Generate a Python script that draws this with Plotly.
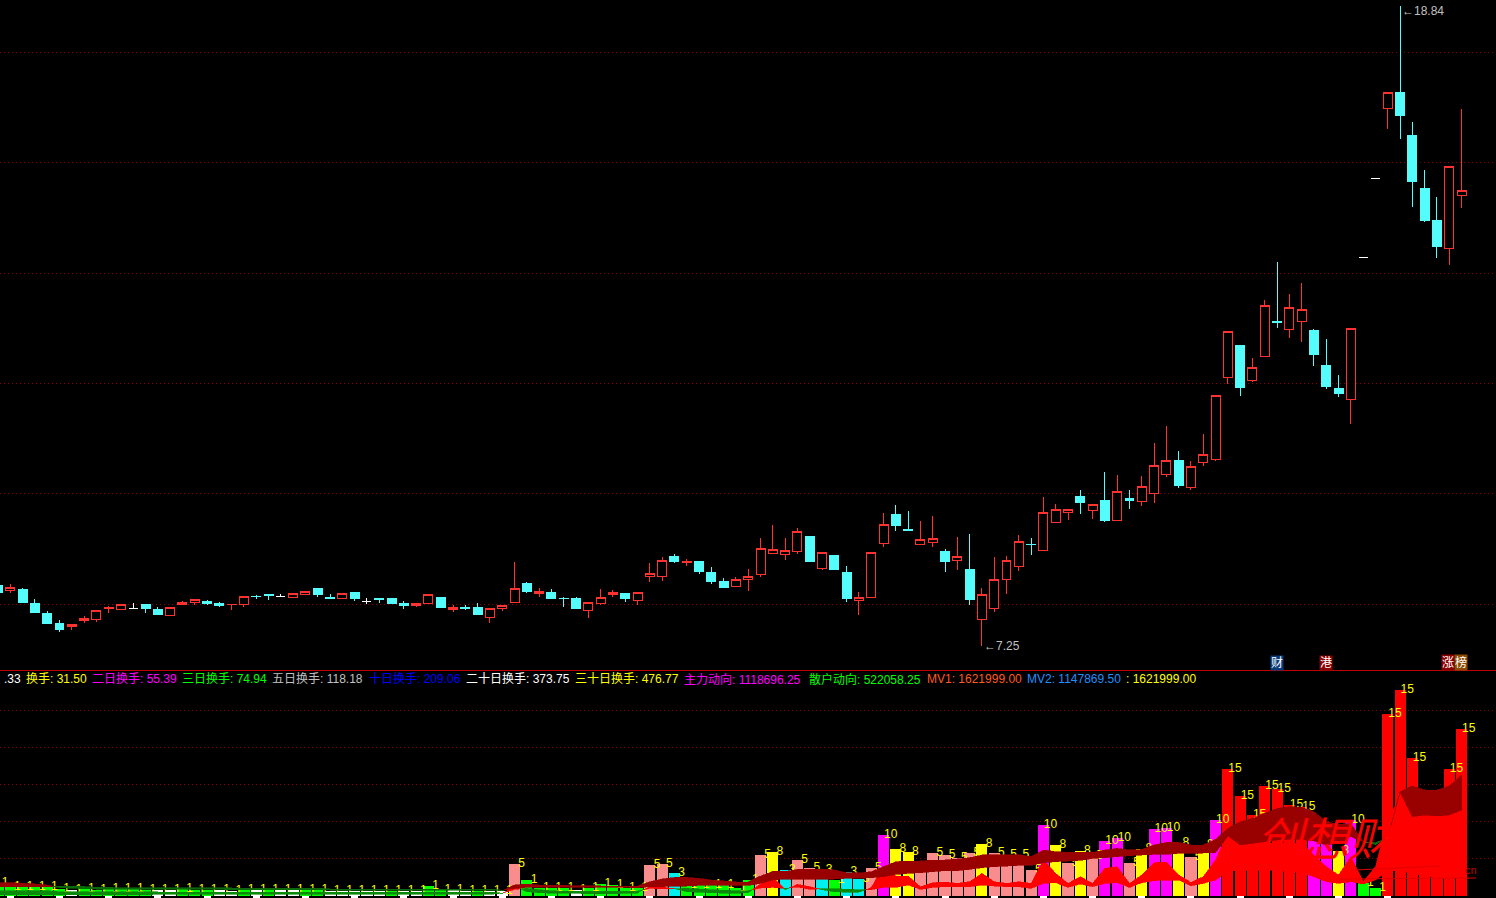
import plotly.graph_objects as go

W, H = 1496, 898

# ---------- daily prices (yuan) ----------
opens = [8.35,8.25,8.26,8.02,7.84,7.66,7.59,7.70,7.72,7.92,7.90,7.93,7.99,7.90,7.79,7.99,8.04,8.06,8.01,7.99,
         7.99,8.15,8.17,8.14,8.13,8.18,8.28,8.13,8.10,8.21,8.06,8.11,8.10,8.01,7.97,8.01,8.13,7.90,7.95,7.95,
         7.77,7.92,8.03,8.37,8.19,8.21,8.11,8.10,7.89,8.01,8.17,8.19,8.07,8.50,8.50,8.87,8.75,8.77,8.58,8.42,
         8.32,8.45,8.54,8.93,8.90,8.95,9.22,8.65,8.89,8.57,8.07,8.12,9.10,9.62,9.36,9.08,9.12,8.95,8.79,8.64,
         7.72,7.92,8.45,8.69,9.09,8.98,9.49,9.67,9.95,9.70,9.88,9.52,9.92,9.87,10.01,10.36,10.60,10.12,10.57,10.63,
         12.11,12.69,12.06,12.49,13.12,12.98,13.13,12.96,12.33,11.91,11.72,14.29,15.72,16.98,17.28,16.50,15.54,14.95,14.45,15.41]
highs = [8.37,8.37,8.30,8.10,7.88,7.72,7.64,7.79,7.90,7.97,7.99,8.02,8.01,7.95,7.95,8.06,8.10,8.08,8.04,8.00,
         8.15,8.17,8.19,8.19,8.21,8.24,8.28,8.19,8.20,8.22,8.11,8.11,8.11,8.06,8.02,8.17,8.13,7.99,7.99,8.02,
         7.92,7.98,8.76,8.40,8.30,8.28,8.13,8.13,8.04,8.28,8.26,8.21,8.22,8.75,8.86,8.91,8.82,8.78,8.68,8.48,
         8.49,8.64,9.20,9.44,9.20,9.38,9.24,8.94,8.89,8.69,8.22,8.94,9.65,9.80,9.69,9.51,9.60,9.00,9.22,9.27,
         8.30,8.86,8.87,9.25,9.21,9.95,9.81,9.73,10.08,9.80,10.39,10.35,10.08,10.33,10.93,11.24,10.77,10.59,11.09,11.78,
         12.95,12.69,12.47,13.52,14.21,13.63,13.83,12.98,12.80,12.16,12.99,14.29,15.72,17.27,18.84,16.74,15.87,15.38,15.94,16.97]
lows = [8.20,8.21,8.04,7.84,7.64,7.50,7.53,7.66,7.68,7.84,7.90,7.92,7.84,7.81,7.79,7.99,7.99,7.99,7.95,7.90,
        7.95,8.10,8.08,8.13,8.11,8.16,8.13,8.11,8.10,8.06,8.01,8.02,8.01,7.92,7.95,8.01,7.95,7.86,7.90,7.81,
        7.66,7.885,8.03,8.21,8.14,8.10,7.95,7.93,7.75,7.99,8.13,8.04,7.99,8.40,8.42,8.75,8.69,8.55,8.37,8.30,
        8.32,8.24,8.49,8.91,8.80,8.91,8.78,8.62,8.64,8.04,7.81,8.12,9.04,9.33,9.33,9.08,9.04,8.58,8.62,7.99,
        7.25,7.86,8.19,8.60,8.90,8.96,9.49,9.52,9.63,9.55,9.50,9.52,9.72,9.79,9.84,10.31,10.10,10.08,10.50,10.60,
        11.99,11.78,12.02,12.49,13.00,12.83,12.76,12.31,11.91,11.76,11.26,14.29,15.72,16.61,16.43,15.20,14.93,14.28,14.15,15.18]
closes = [8.22,8.31,8.04,7.86,7.66,7.55,7.63,7.75,7.88,7.95,7.99,7.93,7.93,7.81,7.95,8.04,8.08,8.02,7.97,8.00,
          8.15,8.14,8.16,8.14,8.19,8.24,8.17,8.11,8.20,8.10,8.06,8.08,8.01,7.97,8.01,8.17,7.95,7.95,7.93,7.81,
          7.92,7.98,8.29,8.24,8.24,8.11,8.10,7.93,8.04,8.13,8.22,8.10,8.22,8.56,8.80,8.78,8.78,8.60,8.42,8.30,
          8.45,8.51,9.01,8.99,8.98,9.32,8.78,8.94,8.64,8.11,8.13,8.94,9.45,9.42,9.33,9.18,9.19,8.77,8.87,8.08,
          8.18,8.45,8.80,9.14,9.08,9.67,9.71,9.71,9.84,9.80,9.52,10.04,9.88,10.13,10.51,10.60,10.15,10.49,10.71,11.78,
          12.95,11.93,12.30,13.41,13.11,13.37,13.35,12.52,11.94,11.82,12.99,14.29,15.72,17.27,16.86,15.67,14.96,14.49,15.94,15.50]
white_days = [11, 23, 30, 111, 112]

# ---------- lower pane ----------
volumes = [13,9,9,9,9,7,6,7,6,7,7,7,6,6,6,7,6,6,6,5,6,6,6,6,6,6,6,5,5,5,5,5,5,5,5,10,6,6,5,5,5,5,
           31.7,15.7,8,8,8,5.7,8,11.7,10.3,8,8,30.7,31.7,22.7,10.3,10.3,11,10.3,8,15.7,40.7,43.7,25.7,35.7,27.7,26,15.7,24,17,27.7,
           60.7,46.7,43.7,29,42.7,40.7,38,42.7,51.7,42.3,40.7,41,26,70.7,50.7,33,44.7,40,54.7,57.3,33,46.7,66.7,67.3,52.3,39,50.7,75.7,
           126.7,99.7,80.7,109.7,106.3,90.3,88.3,62.7,59,44.7,75.7,12.3,7.3,181.7,205.7,137.7,100,100,126.7,166.3]
levels = list("gggggg" "w" "gggggg" "ww" "ggg" "ww" "g" "w" "g" "ww" "gg" "wwwww" "g" "ww" "gg" "ww" "g" "ww"
              "s" "gggg" "w" "ggggg" "ss" "c" "gggggg" "s" "y" "c" "ss" "c" "g" "cc" "s" "m" "yy" "sssss" "y" "ssss"
              "m" "y" "s" "y" "s" "mm" "s" "y" "mm" "y" "s" "y" "m" "rrrrrrr" "mm" "y" "m" "gg" "rrrrrrr")
level_colors = {"g": "#00FF00", "w": "#FFFFFF", "c": "#00F0F0", "s": "#F98C8C",
                "y": "#FFFF00", "m": "#FF00FF", "r": "#FF0000"}
level_labels = {"g": "1", "w": "1", "c": "3", "s": "5", "y": "8", "m": "10", "r": "15"}

band1_a = [13,13,12.3,11.7,10.7,8,7.5,7,6.7,6.7,6.3,6.3,6.3,6.3,6.3,6.3,6.3,6.3,6.3,6,6,6,6,6,6,6,6,5.7,5.7,5.7,5.7,5.7,5.7,5.7,5.7,5.7,5.7,5.7,5.7,5.7,5.7,5,
           10.7,11.7,10.7,10.3,10.3,10,10,9.7,9.7,9.7,9.7,14,16.7,18.3,18.3,17.3,15.7,14.7,13.7,13.7,19.7,24.3,24.3,26.3,26.7,26.7,25.7,23,22.7,24,29,34,34.7,34.7,35.7,35.7,36.7,38,40.7,41,41,41,
           39,45.7,44,43.3,43.3,43.3,45.7,47.3,45.7,46.3,50.7,53.3,53.3,50.7,50.7,56.3,67.3,74,77.3,82.3,87.3,89,88.3,84,74,71.3,72.3,54,51,58,104,109.7,105.7,105.7,109.7,120.7]
band1_b = [9,9,9,9,9,9.7,9.7,9.3,8.3,8.3,8,8,8,8,8,8,8,8,8,7.7,7.7,7.7,7.7,7.7,7.7,7.7,7.7,6.7,6.7,6.7,6.7,6.7,6.7,6.7,6.7,6.7,6.7,6.7,6.7,6.7,6.7,5.5,
           7.3,8.3,8.3,8.3,8.5,8.5,8.5,8.5,8.5,8.3,8,9,9,9.7,9.7,10.3,10.3,10.3,10.3,10.3,12.3,15.7,16.7,16.7,16.7,16.7,16.7,17.3,17.3,18,19,21.3,22.3,23,24,25,25,26.3,28,29,29.7,30.3,
           30.3,33,34,34.7,35.3,37.3,38,39,40,40.7,41.3,41.3,42.3,42.3,42.7,43,59.7,50.7,52.3,54,55.7,56.3,56.3,54.7,50.7,52.3,59,54,53,58,104,79,80.7,79.7,80.7,85.7]
band2_a = [1]*13 + [1.3]*28 + [2,
           9.7,4,3,2.5,2.3,2.3,2,2,2,2.3,2.7,9,8.7,7,4,3.5,3,2.5,2.5,3,11.7,19,6,11.3,9,6,4,3.5,3.5,8,29.7,19.7,19.7,9,13,13.7,12.3,14,22.3,14,12.3,14,
           12.3,35.7,22.3,12.3,19,12.3,27.3,29,12.3,20.7,33,33.7,20.7,13.3,19,35.7,63,52.3,52.3,52.3,52.3,52.3,52.3,40.7,29,20.7,39,14,29,75.7,100,80,81,80,81,86]
band2_b = [5]*5 + [4]*8 + [3.7]*28 + [2.5,
           6.3,7.3,6,5,4.5,4.3,4.3,4.3,4.3,4.3,4.7,7.3,7,7,7.3,6.7,6,5.5,5,5,7.7,8.3,7.3,8.7,6.3,7,7,6.5,6,6,8.3,8.3,10.7,6.3,8.3,9,9,9,10.7,9.7,9,9,
           7.3,12.3,13,8.3,11.7,9,12.3,13,8.3,13,15,15.7,15.7,10,12.3,15.7,24,25.7,25.7,25.7,25,24,23,19,14,12.3,14,11.7,15.7,25,25,22,20,18,18,18]

date_tick_days = list(range(1, 114, 4))
price_ticks = [8, 10, 12, 14, 16, 18]
volume_ticks = [37, 74, 111, 148, 185]

header_items = [
    (".33", 2, "#FFFFFF"), ("换手: 31.50", 24, "#FFFF00"), ("二日换手: 55.39", 90, "#FF00FF"),
    ("三日换手: 74.94", 180, "#00FF00"), ("五日换手: 118.18", 270, "#C0C0C0"), ("十日换手: 209.06", 367, "#0000FF"),
    ("二十日换手: 373.75", 464, "#FFFFFF"), ("三十日换手: 476.77", 573, "#FFFF00"),
    ("主力动向: 1118696.25", 682, "#FF00FF"), ("散户动向: 522058.25", 807, "#00FF00"),
    ("MV1: 1621999.00", 925, "#FF5A1E"), ("MV2: 1147869.50", 1025, "#1E90FF"), (": 1621999.00", 1124, "#FFFF00"),
]
tags = [("财", 1276.5, "#0A3A78"), ("港", 1325.5, "#8A0000"), ("涨", 1448, "#8A0000"), ("榜", 1460.5, "#8A4A00")]

FONT = "Liberation Sans, Noto Sans CJK SC, sans-serif"
days = list(range(len(opens)))
fig = go.Figure()

# candles
red_idx = [i for i in days if i not in white_days and closes[i] >= opens[i]]
cyan_idx = [i for i in days if i not in white_days and closes[i] < opens[i]]
for idx, col, fill in ((red_idx, "#FF3232", "#000000"), (cyan_idx, "#54FCFC", "#54FCFC"), (white_days, "#FFFFFF", "#FFFFFF")):
    fig.add_trace(go.Candlestick(
        x=idx, open=[opens[i] for i in idx], high=[highs[i] for i in idx],
        low=[lows[i] for i in idx], close=[closes[i] for i in idx],
        increasing=dict(line=dict(color=col, width=1), fillcolor=fill),
        decreasing=dict(line=dict(color=col, width=1), fillcolor=fill),
        whiskerwidth=0, xaxis="x", yaxis="y", showlegend=False))

# volume bars
fig.add_trace(go.Bar(x=days, y=volumes, marker=dict(color=[level_colors[k] for k in levels], line_width=0),
                     xaxis="x2", yaxis="y2", showlegend=False))
# class labels
fig.add_trace(go.Scatter(x=[d + 0.58 for d in days], y=volumes, mode="text",
                         text=[level_labels[k] for k in levels], textposition="middle center",
                         textfont=dict(color="#FFFF00", size=12, family=FONT),
                         xaxis="x2", yaxis="y2", showlegend=False))
# date ticks
fig.add_trace(go.Scatter(x=date_tick_days, y=[-1.3] * len(date_tick_days), mode="markers",
                         marker=dict(symbol="line-ew", size=5, line=dict(color="#FFFFFF", width=2)),
                         xaxis="x2", yaxis="y2", showlegend=False))


def add_band(a, b, up_col, down_col):
    polys = {up_col: ([], []), down_col: ([], [])}
    for i in range(len(a) - 1):
        d0, d1 = a[i] - b[i], a[i + 1] - b[i + 1]
        if d0 * d1 < 0:
            t = d0 / (d0 - d1)
            xc, yc = i + t, a[i] + t * (a[i + 1] - a[i])
            parts = [(d0, [i, xc, i], [a[i], yc, b[i]]),
                     (d1, [xc, i + 1, i + 1], [yc, a[i + 1], b[i + 1]])]
        else:
            parts = [(d0 + d1, [i, i + 1, i + 1, i], [a[i], a[i + 1], b[i + 1], b[i]])]
        for s, xs, ys in parts:
            px, py = polys[up_col if s >= 0 else down_col]
            px += xs + [xs[0], None]
            py += ys + [ys[0], None]
    for col, (px, py) in polys.items():
        fig.add_trace(go.Scatter(x=px, y=py, mode="lines", fill="toself", fillcolor=col,
                                 line=dict(color=col, width=0.6), hoverinfo="skip",
                                 xaxis="x2", yaxis="y2", showlegend=False))


add_band(band2_a, band2_b, "#FF0000", "#0A8A0A")
add_band(band1_a, band1_b, "#990000", "#0A6A0A")

annos = []
for text, x, col in header_items:
    annos.append(dict(text=text, x=x / W, y=1 - 679 / H, xref="paper", yref="paper", xanchor="left", yanchor="middle",
                      showarrow=False, font=dict(color=col, size=12, family=FONT)))
for text, x, col in tags:
    annos.append(dict(text=text, x=x / W, y=1 - 662.5 / H, xref="paper", yref="paper", xanchor="center", yanchor="middle",
                      showarrow=False, bgcolor=col, borderpad=0, font=dict(color="#FFFFFF", size=12, family=FONT)))
annos.append(dict(text="←18.84", x=114, y=18.84, xref="x", yref="y", xanchor="left", yanchor="middle", yshift=-5,
                  showarrow=False, font=dict(color="#C0C0C0", size=12, family=FONT)))
annos.append(dict(text="←7.25", x=80, y=7.25, xref="x", yref="y", xanchor="left", yanchor="middle",
                  showarrow=False, font=dict(color="#C0C0C0", size=12, family=FONT)))
annos.append(dict(text="<i>创想财富</i>", x=1352 / W, y=1 - 836 / H, xref="paper", yref="paper", xanchor="center", yanchor="middle",
                  showarrow=False, font=dict(color="#FF0000", size=46, family="Noto Sans CJK SC")))
annos.append(dict(text="cn", x=1471 / W, y=1 - 870 / H, xref="paper", yref="paper", xanchor="center", yanchor="middle",
                  showarrow=False, font=dict(color="#C00000", size=11, family=FONT)))

shapes = [dict(type="line", xref="paper", yref="paper", x0=0, x1=1, y0=1 - 670.5 / H, y1=1 - 670.5 / H,
               line=dict(color="#C00000", width=1.2))]
for x0, y0, x1, y1 in ((1355, 870, 1440, 866), (1340, 879, 1476, 878)):
    shapes.append(dict(type="line", xref="paper", yref="paper", x0=x0 / W, x1=x1 / W, y0=1 - y0 / H, y1=1 - y1 / H,
                       line=dict(color="#E00000", width=1)))

xr = [0.163, 121.8]
grid = dict(showgrid=True, gridcolor="#8A0000", griddash="1px,3px", gridwidth=1, zeroline=False,
            showticklabels=False, ticks="", showline=False)
fig.update_layout(
    width=W, height=H, margin=dict(l=0, r=0, t=0, b=0), paper_bgcolor="#000000", plot_bgcolor="#000000",
    showlegend=False, boxgap=0.27, boxgroupgap=0, bargap=0.1, annotations=annos, shapes=shapes, hovermode=False,
    xaxis=dict(domain=[0, 1], range=xr, anchor="y", showgrid=False, zeroline=False, showticklabels=False,
               rangeslider=dict(visible=False), ticks=""),
    xaxis2=dict(domain=[0, 1], range=xr, anchor="y2", showgrid=False, zeroline=False, showticklabels=False, ticks=""),
    yaxis=dict(domain=[1 - 670 / H, 1], range=[6.81, 18.95], tickvals=price_ticks, **grid),
    yaxis2=dict(domain=[0, 1 - 672 / H], range=[-2.3, 223.7], tickvals=volume_ticks, **grid),
)
fig.write_html("out.html", config=dict(displayModeBar=False),
               post_script="document.body.style.margin='0';document.body.style.background='#000';"
                           "document.querySelectorAll('.main-svg .cartesianlayer path').forEach(function(p){p.style.shapeRendering='crispEdges';});")
